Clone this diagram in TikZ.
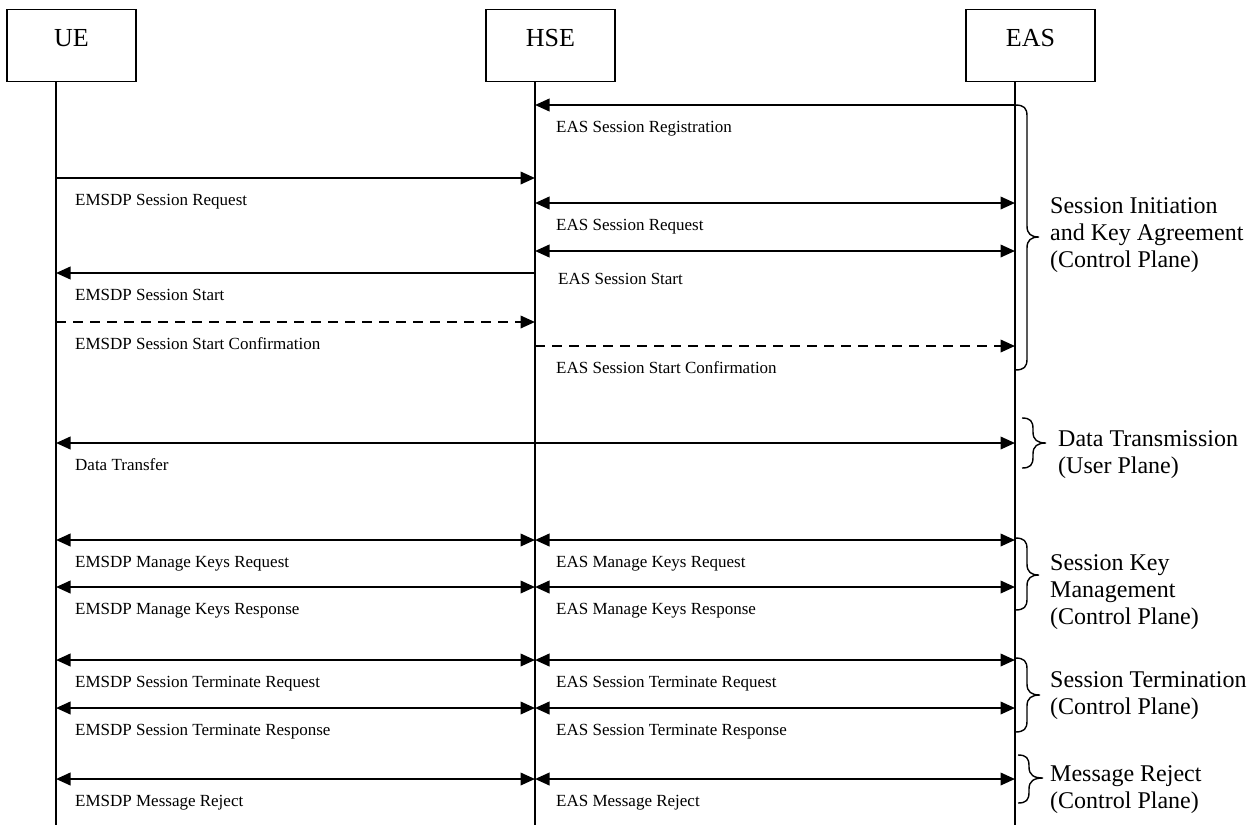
\documentclass[tikz,border=0pt]{standalone}
\usepackage{fontspec}
\setmainfont{Liberation Serif}
\usetikzlibrary{arrows.meta}
\newcommand{\mybrace}[6]{% x, y1, y2, ym, s, a
  \draw[brline] (#1,#2) .. controls ({#1+0.75*#5},#2) and ({#1+#5},{#2+3}) .. ({#1+#5},{#2+11})
    -- ({#1+#5},{#4-11}) .. controls ({#1+#5},{#4-3}) and ({#1+#5+0.35*(#6-#5)},#4) .. ({#1+#6},#4)
    .. controls ({#1+#5+0.35*(#6-#5)},#4) and ({#1+#5},{#4+3}) .. ({#1+#5},{#4+11})
    -- ({#1+#5},{#3-11}) .. controls ({#1+#5},{#3-3}) and ({#1+0.75*#5},#3) .. (#1,#3);}
\begin{document}
\begin{tikzpicture}[x=1pt,y=-1pt,
  ent/.style={draw,line width=1.4pt,minimum width=129pt,minimum height=72.4pt,inner sep=0pt},
  enttext/.style={font=\fontsize{26}{30}\selectfont,anchor=base,inner sep=0pt},
  life/.style={line width=1.5pt},
  tipm/.tip={Triangle[length=14.5pt,width=12.5pt]},
  msg/.style={line width=2.2pt,-tipm},
  bmsg/.style={line width=2.2pt,tipm-tipm},
  dmsg/.style={msg,dash pattern=on 10pt off 7pt},
  lbl/.style={font=\fontsize{17}{20}\selectfont,anchor=base west,inner sep=0pt},
  grp/.style={font=\fontsize{24}{27}\selectfont,anchor=west,align=left,inner sep=0pt},
  brline/.style={line width=1.4pt},
]
\useasboundingbox (0,0) rectangle (1255,825);

% entities
\node[ent] (ueBox) at (71.5,45.5) {};
\node[ent] (hseBox) at (550.5,45.5) {};
\node[ent] (easBox) at (1030.5,45.5) {};
\node[enttext] (ueTxt) at (71.5,46) {UE};
\node[enttext] (hseTxt) at (550.5,46) {HSE};
\node[enttext] (easTxt) at (1030.5,46) {EAS};

% lifelines
\coordinate (ueTop) at (56,81.7);   \coordinate (ueBot) at (56,825);
\coordinate (hseTop) at (535,81.7); \coordinate (hseBot) at (535,825);
\coordinate (easTop) at (1015,81.7);\coordinate (easBot) at (1015,825);
\draw[life] (ueTop) -- (ueBot);
\draw[life] (hseTop) -- (hseBot);
\draw[life] (easTop) -- (easBot);

% message rows
\foreach \n/\y in {reg/105,sreq/178,easreq/203,easstart/251,start/273,conf/322,easconf/346,data/443,mkreq/540,mkresp/587,treq/660,tresp/708,rej/779}{
  \coordinate (ue-\n) at (56,\y);
  \coordinate (hse-\n) at (535,\y);
  \coordinate (eas-\n) at (1015,\y);
}

\draw[msg] (eas-reg) -- (hse-reg);
\draw[msg] (ue-sreq) -- (hse-sreq);
\draw[bmsg] (hse-easreq) -- (eas-easreq);
\draw[bmsg] (hse-easstart) -- (eas-easstart);
\draw[msg] (hse-start) -- (ue-start);
\draw[dmsg] (ue-conf) -- (hse-conf);
\draw[dmsg] (hse-easconf) -- (eas-easconf);
\draw[bmsg] (ue-data) -- (eas-data);
\draw[bmsg] (ue-mkreq) -- (hse-mkreq);
\draw[bmsg] (hse-mkreq) -- (eas-mkreq);
\draw[bmsg] (ue-mkresp) -- (hse-mkresp);
\draw[bmsg] (hse-mkresp) -- (eas-mkresp);
\draw[bmsg] (ue-treq) -- (hse-treq);
\draw[bmsg] (hse-treq) -- (eas-treq);
\draw[bmsg] (ue-tresp) -- (hse-tresp);
\draw[bmsg] (hse-tresp) -- (eas-tresp);
\draw[bmsg] (ue-rej) -- (hse-rej);
\draw[bmsg] (hse-rej) -- (eas-rej);

% labels
\node[lbl] (lReg) at (556,132) {EAS Session Registration};
\node[lbl] (lSreq) at (75,205) {EMSDP Session Request};
\node[lbl] (lEasReq) at (556,230) {EAS Session Request};
\node[lbl] (lEasStart) at (558,284) {EAS Session Start};
\node[lbl] (lStart) at (75,300) {EMSDP Session Start};
\node[lbl] (lConf) at (75,349) {EMSDP Session Start Confirmation};
\node[lbl] (lEasConf) at (556,373) {EAS Session Start Confirmation};
\node[lbl] (lData) at (75,470) {Data Transfer};
\node[lbl] (lMkReqU) at (75,567) {EMSDP Manage Keys Request};
\node[lbl] (lMkReqE) at (556,567) {EAS Manage Keys Request};
\node[lbl] (lMkRespU) at (75,614) {EMSDP Manage Keys Response};
\node[lbl] (lMkRespE) at (556,614) {EAS Manage Keys Response};
\node[lbl] (lTreqU) at (75,687) {EMSDP Session Terminate Request};
\node[lbl] (lTreqE) at (556,687) {EAS Session Terminate Request};
\node[lbl] (lTrespU) at (75,735) {EMSDP Session Terminate Response};
\node[lbl] (lTrespE) at (556,735) {EAS Session Terminate Response};
\node[lbl] (lRejU) at (75,806) {EMSDP Message Reject};
\node[lbl] (lRejE) at (556,806) {EAS Message Reject};

% braces
\mybrace{1015}{105}{370}{237}{12}{24}
\mybrace{1022}{418}{468}{443}{11}{24}
\mybrace{1015}{538}{610}{575}{12}{24}
\mybrace{1015}{658}{732}{695}{12}{25}
\mybrace{1018}{755}{803}{778}{11}{25}

% group texts
\node[grp] (g1) at (1050,235) {Session Initiation\\and Key Agreement\\(Control Plane)};
\node[grp] (g2) at (1058,455) {Data Transmission\\(User Plane)};
\node[grp] (g3) at (1050,592) {Session Key\\Management\\(Control Plane)};
\node[grp] (g4) at (1050,696) {Session Termination\\(Control Plane)};
\node[grp] (g5) at (1050,790) {Message Reject\\(Control Plane)};
\end{tikzpicture}
\end{document}
